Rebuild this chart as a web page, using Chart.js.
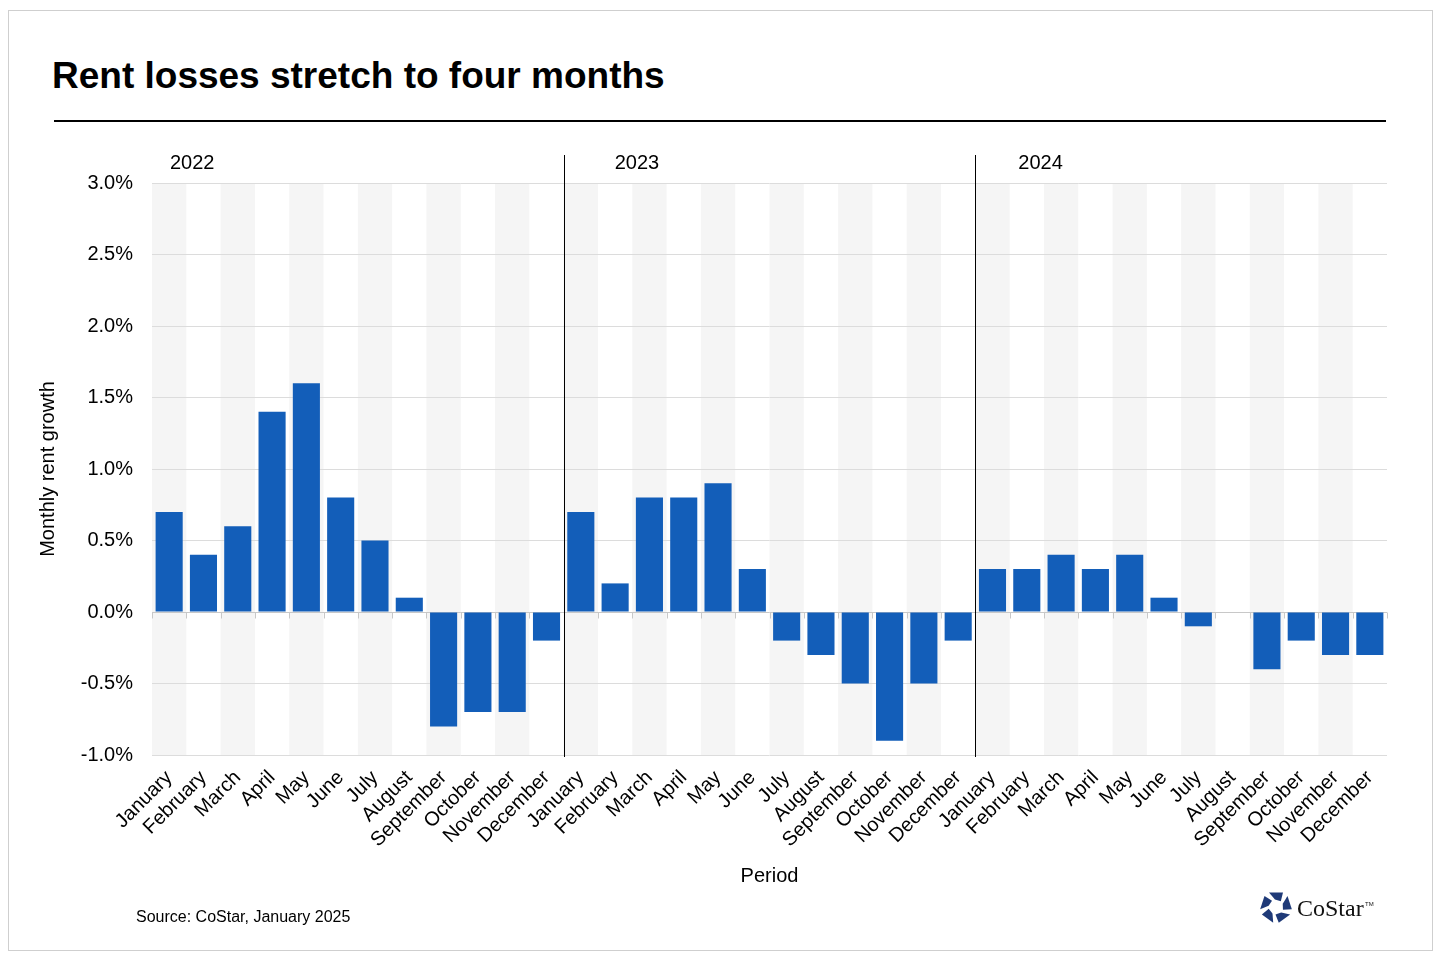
<!DOCTYPE html>
<html>
<head>
<meta charset="utf-8">
<script src="https://cdn.jsdelivr.net/npm/chart.js@4.4.1/dist/chart.umd.min.js"></script>
<style>
  html, body { margin:0; padding:0; background:#fff; }
  body { width:1440px; height:960px; position:relative; overflow:hidden; font-family:"Liberation Sans", Arial, sans-serif; }
  #frame { position:absolute; left:8px; top:10px; width:1423px; height:939px; border:1px solid #cfcfcf; }
  #title { position:absolute; left:52px; top:57px; font-size:37px; line-height:37px; font-weight:bold; color:#000; white-space:nowrap; }
  #rule { position:absolute; left:54px; top:120px; width:1332px; height:2px; background:#000; }
  #source { position:absolute; left:136px; top:909px; font-size:16px; line-height:16px; color:#000; white-space:nowrap; }
  #wrap { position:absolute; left:0; top:0; width:1440px; height:960px; }
  #logo { position:absolute; left:1258px; top:889px; }
</style>
</head>
<body>
<div id="frame"></div>
<div id="title">Rent losses stretch to four months</div>
<div id="rule"></div>
<div id="wrap"><canvas id="c"></canvas></div>
<div id="source">Source: CoStar, January 2025</div>
<svg id="logo" width="130" height="40" viewBox="0 0 130 40"></svg>
<script>
// ---- data ----
const categories = [
  'January','February','March','April','May','June','July','August','September','October','November','December',
  'January','February','March','April','May','June','July','August','September','October','November','December',
  'January','February','March','April','May','June','July','August','September','October','November','December'
];
const rent2022 = [0.7, 0.4, 0.6, 1.4, 1.6, 0.8, 0.5, 0.1, -0.8, -0.7, -0.7, -0.2];
const rent2023 = [0.7, 0.2, 0.8, 0.8, 0.9, 0.3, -0.2, -0.3, -0.5, -0.9, -0.5, -0.2];
const rent2024 = [0.3, 0.3, 0.4, 0.3, 0.4, 0.1, -0.1, 0.0, -0.4, -0.2, -0.3, -0.3];
const yearLabels = ['2022', '2023', '2024'];
const yearStartIndex = [0, 12, 24];
const yTickValues = [-1.0, -0.5, 0.0, 0.5, 1.0, 1.5, 2.0, 2.5, 3.0];

const values = [...rent2022, ...rent2023, ...rent2024];

// ---- styles ----
const FONT = '"Liberation Sans", Arial, sans-serif';
const BAR_COLOR = '#135eb9';
const BAND_COLOR = '#f5f5f5';
const yearLabelOffsets = [18, 51, 43];

const decor = {
  id: 'decor',
  beforeDraw(chart) {
    const { ctx, chartArea: a, scales: { x } } = chart;
    const w = (a.right - a.left) / categories.length;
    ctx.save();
    ctx.fillStyle = BAND_COLOR;
    for (let i = 0; i < categories.length; i += 2) {
      const cx = x.getPixelForValue(i);
      ctx.fillRect(cx - w / 2, a.top, w, a.bottom - a.top);
    }
    ctx.restore();
  },
  beforeDatasetsDraw(chart) {
    const { ctx, chartArea: a, scales: { x, y } } = chart;
    const w = (a.right - a.left) / categories.length;
    const y0 = Math.round(y.getPixelForValue(0)) + 0.5;
    ctx.save();
    ctx.strokeStyle = '#c8c8c8';
    ctx.lineWidth = 1;
    ctx.beginPath();
    for (let i = 0; i <= categories.length; i++) {
      const bx = Math.round(a.left + i * w) + 0.5;
      ctx.moveTo(bx, y0);
      ctx.lineTo(bx, y0 + 6);
    }
    ctx.stroke();
    ctx.restore();
  },
  afterDatasetsDraw(chart) {
    const { ctx, chartArea: a, scales: { x } } = chart;
    const w = (a.right - a.left) / categories.length;
    ctx.save();
    ctx.strokeStyle = '#000';
    ctx.lineWidth = 1;
    ctx.beginPath();
    for (let k = 1; k < yearStartIndex.length; k++) {
      const sx = Math.round(x.getPixelForValue(yearStartIndex[k]) - w / 2) + 0.5;
      ctx.moveTo(sx, a.top - 28);
      ctx.lineTo(sx, a.bottom + 2);
    }
    ctx.stroke();
    ctx.fillStyle = '#000';
    ctx.font = '20px ' + FONT;
    ctx.textBaseline = 'middle';
    ctx.textAlign = 'left';
    for (let k = 0; k < yearLabels.length; k++) {
      const gx = x.getPixelForValue(yearStartIndex[k]) - w / 2;
      ctx.fillText(yearLabels[k], gx + yearLabelOffsets[k], a.top - 20);
    }
    ctx.restore();
  }
};

new Chart(document.getElementById('c'), {
  type: 'bar',
  data: {
    labels: categories,
    datasets: [{
      data: values,
      backgroundColor: BAR_COLOR,
      borderWidth: 0,
      barPercentage: 0.79,
      categoryPercentage: 1.0
    }]
  },
  options: {
    responsive: true,
    maintainAspectRatio: false,
    animation: false,
    layout: { padding: { left: 36, top: 183, right: 53, bottom: 72 } },
    plugins: { legend: { display: false }, tooltip: { enabled: false } },
    scales: {
      x: {
        grid: { display: false, drawTicks: false },
        border: { display: false },
        ticks: {
          autoSkip: false, maxRotation: 45, minRotation: 45, padding: 11,
          color: '#000', font: { family: FONT, size: 20 }
        },
        title: { display: true, text: 'Period', color: '#000', font: { family: FONT, size: 20 }, padding: 0 },
        afterFit(s) { s.height = 133; }
      },
      y: {
        min: -1, max: 3,
        afterBuildTicks(s) { s.ticks = yTickValues.map(v => ({ value: v })); },
        grid: {
          drawTicks: false,
          color: c => (c.tick && c.tick.value === 0) ? '#c8c8c8' : '#dcdcdc',
          lineWidth: 1
        },
        border: { display: false },
        ticks: {
          padding: 19, color: '#000', font: { family: FONT, size: 20 },
          callback: v => Number(v).toFixed(1) + '%'
        },
        title: { display: true, text: 'Monthly rent growth', color: '#000', font: { family: FONT, size: 20 }, padding: 0 },
        afterFit(s) { s.width = 116; }
      }
    }
  },
  plugins: [decor]
});

// ---- logo ----
(function () {
  const svg = document.getElementById('logo');
  const ns = 'http://www.w3.org/2000/svg';
  const cx = 18, cy = 18;
  const pt = (r, deg) => {
    const t = deg * Math.PI / 180;
    return (cx + r * Math.cos(t)).toFixed(2) + ',' + (cy + r * Math.sin(t)).toFixed(2);
  };
  for (let k = 0; k < 5; k++) {
    const th = -90 + 72 * k;
    const p = document.createElementNS(ns, 'polygon');
    p.setAttribute('points', [pt(16, th - 26), pt(16, th + 26), pt(7.5, th + 40), pt(7.5, th - 8)].join(' '));
    p.setAttribute('fill', '#1f3a78');
    svg.appendChild(p);
  }
  const t = document.createElementNS(ns, 'text');
  t.setAttribute('x', 39); t.setAttribute('y', 27);
  t.setAttribute('font-family', '"Liberation Serif", "DejaVu Serif", serif');
  t.setAttribute('font-size', 24); t.setAttribute('fill', '#111');
  t.textContent = 'CoStar';
  svg.appendChild(t);
  const tm = document.createElementNS(ns, 'text');
  tm.setAttribute('x', 107); tm.setAttribute('y', 17);
  tm.setAttribute('font-family', FONT);
  tm.setAttribute('font-size', 6); tm.setAttribute('fill', '#111');
  tm.textContent = 'TM';
  svg.appendChild(tm);
})();
</script>
</body>
</html>
